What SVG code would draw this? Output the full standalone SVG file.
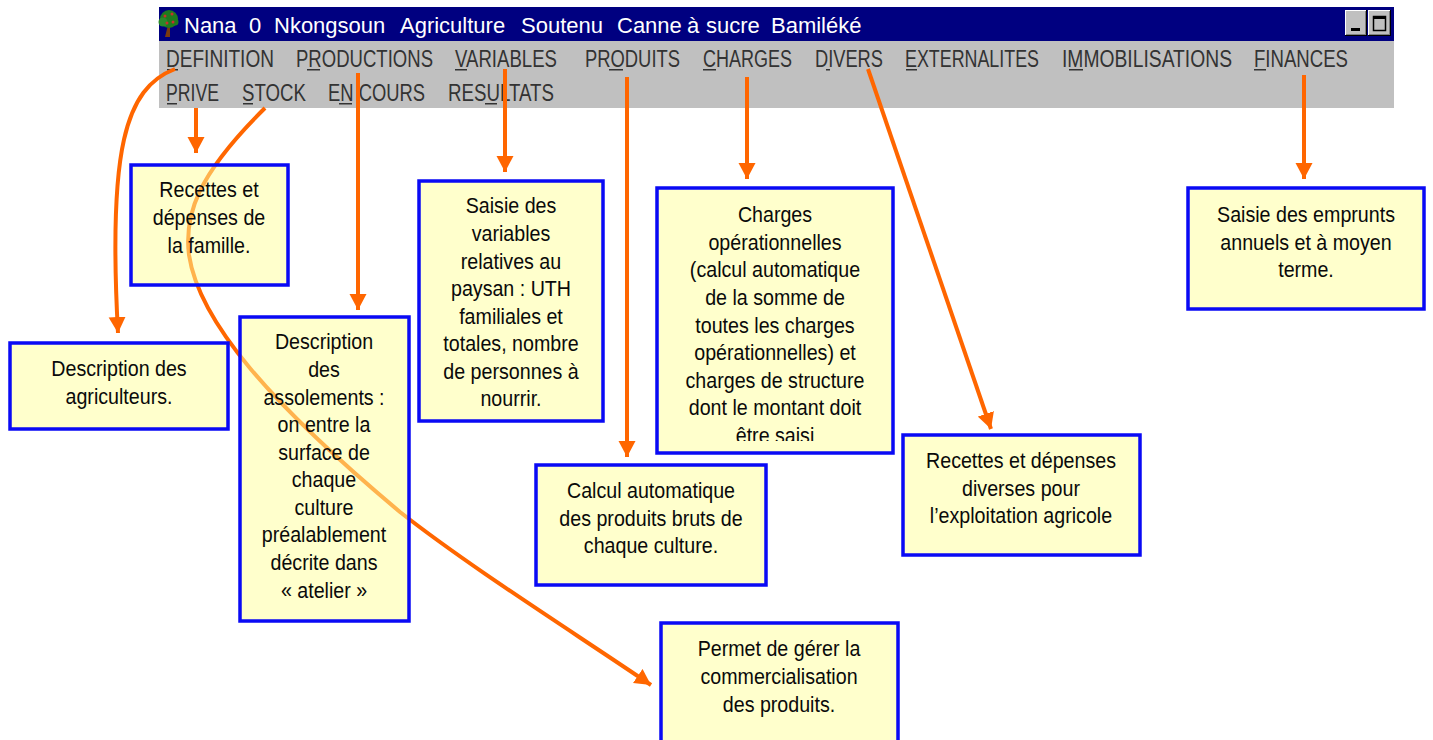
<svg xmlns="http://www.w3.org/2000/svg" width="1433" height="740" viewBox="0 0 1433 740">
<style>
.box{fill:#FFFF99;fill-opacity:.5;stroke:#0A0AF5;stroke-width:3.5}
.t{font-family:"Liberation Sans",Arial,sans-serif;font-size:22px;fill:#0a0a0a;text-anchor:middle}
.m{font-family:"Liberation Sans",Arial,sans-serif;font-size:23px;fill:#333}
.u{fill:#333}
.c{fill:none;stroke:#FF6600;stroke-width:4}
</style>
<defs>
<marker id="a" markerUnits="userSpaceOnUse" markerWidth="18" markerHeight="18" refX="16" refY="9" orient="auto"><path d="M0 0.500L16 9L0 17.500Z" fill="#FF6600"/></marker>
<clipPath id="cc"><rect x="-140" y="187" width="280" height="254"/></clipPath>
</defs>
<g id="window">
<rect x="159" y="7" width="1235" height="34" fill="#000080"/>
<rect x="159" y="41" width="1235" height="67" fill="#C0C0C0"/>
<g id="icon"><path d="M165 37L168 25L170 25L170 37Z" fill="#7a3a10"/><circle cx="169" cy="19" r="9" fill="#1e7a1e"/><circle cx="163" cy="22" r="4.500" fill="#2a8a2a"/><circle cx="175" cy="22" r="3.500" fill="#1e7a1e"/><circle cx="165" cy="16" r="1.500" fill="#c8302a"/><circle cx="172" cy="14" r="1.500" fill="#c8302a"/><circle cx="173" cy="22" r="1.500" fill="#c8302a"/><circle cx="167" cy="23" r="1.500" fill="#c8302a"/></g>
<text font-family="'Liberation Sans',Arial,sans-serif" font-size="22" fill="#fff" y="33"><tspan x="184">Nana</tspan><tspan x="249">0</tspan><tspan x="274">Nkongsoun</tspan><tspan x="400">Agriculture</tspan><tspan x="521">Soutenu</tspan><tspan x="617">Canne</tspan><tspan x="687">à</tspan><tspan x="706">sucre</tspan><tspan x="771">Bamiléké</tspan></text>
<g id="buttons">
<rect x="1345" y="10" width="22" height="26" fill="#000"/><rect x="1345" y="10" width="21" height="25" fill="#fff"/><rect x="1346" y="11" width="20" height="24" fill="#808080"/><rect x="1346" y="11" width="19" height="23" fill="#C0C0C0"/><rect x="1351" y="28" width="9" height="3" fill="#000"/>
<rect x="1368" y="10" width="23" height="26" fill="#000"/><rect x="1368" y="10" width="22" height="25" fill="#fff"/><rect x="1369" y="11" width="21" height="24" fill="#808080"/><rect x="1369" y="11" width="20" height="23" fill="#C0C0C0"/><rect x="1373.500" y="16.500" width="12" height="14" fill="none" stroke="#000" stroke-width="1.500"/><rect x="1373" y="16" width="13" height="3" fill="#000"/>
</g>
<text class="m" x="166" y="67" textLength="108" lengthAdjust="spacingAndGlyphs">DEFINITION</text>
<text class="m" x="296" y="67" textLength="137" lengthAdjust="spacingAndGlyphs">PRODUCTIONS</text>
<text class="m" x="455" y="67" textLength="102" lengthAdjust="spacingAndGlyphs">VARIABLES</text>
<text class="m" x="585" y="67" textLength="95" lengthAdjust="spacingAndGlyphs">PRODUITS</text>
<text class="m" x="703" y="67" textLength="89" lengthAdjust="spacingAndGlyphs">CHARGES</text>
<text class="m" x="815" y="67" textLength="68" lengthAdjust="spacingAndGlyphs">DIVERS</text>
<text class="m" x="905" y="67" textLength="134" lengthAdjust="spacingAndGlyphs">EXTERNALITES</text>
<text class="m" x="1062" y="67" textLength="170" lengthAdjust="spacingAndGlyphs">IMMOBILISATIONS</text>
<text class="m" x="1254" y="67" textLength="94" lengthAdjust="spacingAndGlyphs">FINANCES</text>
<text class="m" x="166" y="101" textLength="53" lengthAdjust="spacingAndGlyphs">PRIVE</text>
<text class="m" x="242" y="101" textLength="64" lengthAdjust="spacingAndGlyphs">STOCK</text>
<text class="m" x="328" y="101" textLength="97" lengthAdjust="spacingAndGlyphs">EN COURS</text>
<text class="m" x="448" y="101" textLength="106" lengthAdjust="spacingAndGlyphs">RESULTATS</text>
<g id="underlines">
<rect class="u" x="167" y="69" width="11" height="1.500"/><rect class="u" x="307" y="69" width="13" height="1.500"/><rect class="u" x="455" y="69" width="12" height="1.500"/><rect class="u" x="609" y="69" width="14" height="1.500"/><rect class="u" x="703" y="69" width="13" height="1.500"/><rect class="u" x="826" y="69" width="4" height="1.500"/><rect class="u" x="906" y="69" width="11" height="1.500"/><rect class="u" x="1069" y="69" width="14" height="1.500"/><rect class="u" x="1254" y="69" width="12" height="1.500"/>
<rect class="u" x="167" y="103" width="10" height="1.500"/><rect class="u" x="243" y="103" width="10" height="1.500"/><rect class="u" x="339" y="103" width="13" height="1.500"/><rect class="u" x="485" y="103" width="12" height="1.500"/>
</g>
</g>
<g id="connectors">
<path class="c" marker-end="url(#a)" d="M175 69C125 88 108 150 118 333"/>
<path class="c" marker-end="url(#a)" d="M196 108V153"/>
<path class="c" marker-end="url(#a)" d="M265 108C197 175 184 215 189 255C199 322 272 405 400 512C470 567 570 630 651 685"/>
<path class="c" marker-end="url(#a)" d="M358 73V310"/>
<path class="c" marker-end="url(#a)" d="M505 69V172"/>
<path class="c" marker-end="url(#a)" d="M627 77V457"/>
<path class="c" marker-end="url(#a)" d="M747 77V179"/>
<path class="c" marker-end="url(#a)" d="M868 69L991 429"/>
<path class="c" marker-end="url(#a)" d="M1304 75V179"/>
</g>
<g id="n-prive"><rect class="box" x="131" y="165" width="157" height="120"/>
<g transform="translate(209 0) scale(.893 1)"><text class="t" y="197">Recettes et</text><text class="t" y="225">dépenses de</text><text class="t" y="253">la famille.</text></g></g>
<g id="n-definition"><rect class="box" x="10" y="343" width="218" height="86"/>
<g transform="translate(119 0) scale(.893 1)"><text class="t" y="376">Description des</text><text class="t" y="404">agriculteurs.</text></g></g>
<g id="n-productions"><rect class="box" x="240" y="317" width="169" height="304"/>
<g transform="translate(324 0) scale(.893 1)"><text class="t" y="349">Description</text><text class="t" y="377">des</text><text class="t" y="405">assolements :</text><text class="t" y="432">on entre la</text><text class="t" y="460">surface de</text><text class="t" y="487">chaque</text><text class="t" y="515">culture</text><text class="t" y="542">préalablement</text><text class="t" y="570">décrite dans</text><text class="t" y="598">« atelier »</text></g></g>
<g id="n-variables"><rect class="box" x="419" y="181" width="184" height="240"/>
<g transform="translate(511 0) scale(.893 1)"><text class="t" y="213">Saisie des</text><text class="t" y="241">variables</text><text class="t" y="269">relatives au</text><text class="t" y="296">paysan : UTH</text><text class="t" y="324">familiales et</text><text class="t" y="351">totales, nombre</text><text class="t" y="379">de personnes à</text><text class="t" y="406">nourrir.</text></g></g>
<g id="n-produits"><rect class="box" x="536" y="465" width="230" height="120"/>
<g transform="translate(651 0) scale(.893 1)"><text class="t" y="498">Calcul automatique</text><text class="t" y="526">des produits bruts de</text><text class="t" y="553">chaque culture.</text></g></g>
<g id="n-charges"><rect class="box" x="657" y="188" width="236" height="265"/>
<g transform="translate(775 0) scale(.893 1)" clip-path="url(#cc)"><text class="t" y="222">Charges</text><text class="t" y="250">opérationnelles</text><text class="t" y="277">(calcul automatique</text><text class="t" y="305">de la somme de</text><text class="t" y="333">toutes les charges</text><text class="t" y="360">opérationnelles) et</text><text class="t" y="388">charges de structure</text><text class="t" y="415">dont le montant doit</text><text class="t" y="443">être saisi</text></g></g>
<g id="n-divers"><rect class="box" x="903" y="435" width="237" height="120"/>
<g transform="translate(1021 0) scale(.893 1)"><text class="t" y="468">Recettes et dépenses</text><text class="t" y="496">diverses pour</text><text class="t" y="523">l’exploitation agricole</text></g></g>
<g id="n-stock"><rect class="box" x="661" y="623" width="237" height="125"/>
<g transform="translate(779 0) scale(.893 1)"><text class="t" y="656">Permet de gérer la</text><text class="t" y="684">commercialisation</text><text class="t" y="712">des produits.</text></g></g>
<g id="n-finances"><rect class="box" x="1188" y="188" width="236" height="121"/>
<g transform="translate(1306 0) scale(.893 1)"><text class="t" y="222">Saisie des emprunts</text><text class="t" y="250">annuels et à moyen</text><text class="t" y="277">terme.</text></g></g>
</svg>
